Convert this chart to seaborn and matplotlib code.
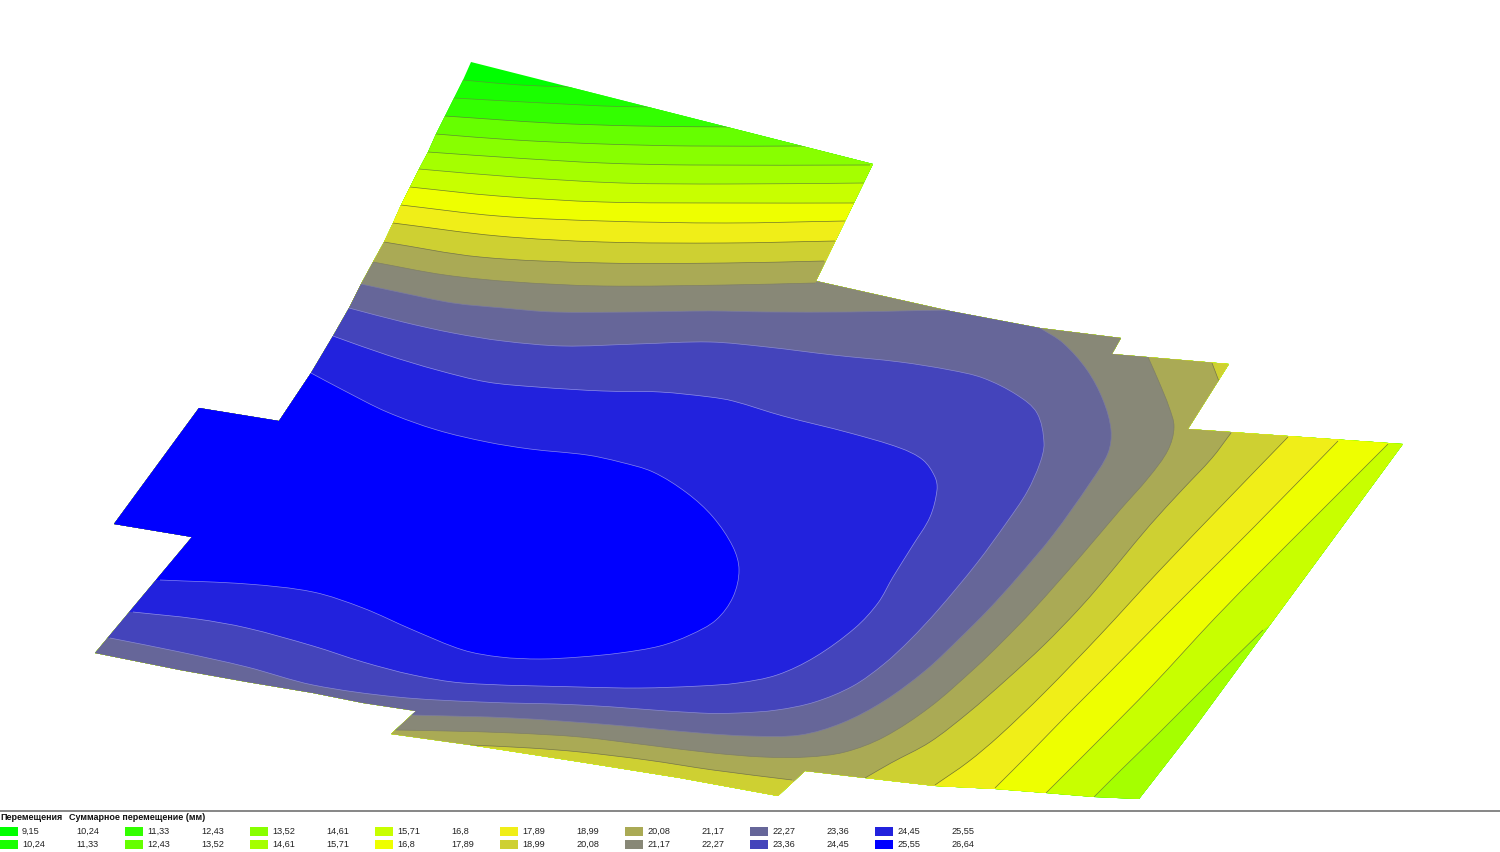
import matplotlib
matplotlib.use("Agg")
import matplotlib.pyplot as plt
import numpy as np
import seaborn as sns
from matplotlib.path import Path
from matplotlib.patches import PathPatch, Polygon, Rectangle

# legend values, row by row
row1_from = ["9,15", "11,33", "13,52", "15,71", "17,89", "20,08", "22,27", "24,45"]
row1_to = ["10,24", "12,43", "14,61", "16,8", "18,99", "21,17", "23,36", "25,55"]
row2_from = ["10,24", "12,43", "14,61", "16,8", "18,99", "21,17", "23,36", "25,55"]
row2_to = ["11,33", "13,52", "15,71", "17,89", "20,08", "22,27", "24,45", "26,64"]
row1_colors = ["#00ff00", "#33ff00", "#88ff00", "#c8ff00", "#f0ee18", "#aaaa55", "#666699", "#2222dd"]
row2_colors = ["#1aff00", "#66ff00", "#a5ff00", "#eeff00", "#ced032", "#888877", "#4444bb", "#0000ff"]

# plate outline (pixel coords)
outline = [(471, 62), (873, 164), (816, 281), (950, 311), (1040, 328), (1121, 338), (1112, 354),
           (1229, 364), (1188, 429), (1403, 444), (1195, 727), (1139, 799), (1094, 797), (1046, 793),
           (995, 789), (935, 786), (865, 778), (805, 771), (778, 796), (680, 778), (580, 762),
           (470, 745), (391, 734), (416, 711), (363, 703), (313, 693), (247, 682), (180, 670),
           (95, 653), (192, 537), (114, 524), (199, 408), (279, 421), (311, 373), (333, 336),
           (349, 308), (361, 284), (373, 262), (384, 242), (393, 223), (401, 205), (410, 187),
           (419, 169), (428, 152), (436, 134), (445, 116), (454, 98), (463, 80)]

# isolines: *_line are the visible pieces, *_gap run outside the plate to close the region
line_1024 = [[(463, 80), (520, 85), (572, 87)]]
gap_1024 = [[(580, 80), (1450, 80), (1450, 830), (0, 830), (0, 78)]]
line_1133 = [[(454, 98), (603, 106), (657, 107)]]
gap_1133 = [[(665, 100), (1450, 100), (1450, 830), (0, 830), (0, 96)]]
line_1243 = [[(445, 116), (550, 123), (638, 126), (735, 127)]]
gap_1243 = [[(745, 120), (1450, 120), (1450, 830), (0, 830), (0, 114)]]
line_1352 = [[(436, 134), (515, 140), (603, 144), (691, 146), (807, 146)]]
gap_1352 = [[(815, 140), (1450, 140), (1450, 830), (0, 830), (0, 130)]]
line_1461 = [[(428, 152), (515, 158), (603, 163), (691, 165), (870, 165)]]
gap_1461 = [[(880, 160), (1450, 160), (1450, 830), (0, 830), (0, 150)]]
line_1571 = [[(419, 169), (515, 177), (621, 183), (726, 184), (865, 183)],
             [(1263, 630), (1217, 675), (1159, 733), (1121, 770), (1094, 797)]]
gap_1571 = [[(875, 183), (1430, 420), (1420, 520), (1290, 610)],
            [(1090, 825), (0, 825), (0, 165)]]
line_168 = [[(410, 187), (498, 196), (603, 202), (726, 203), (854, 203)],
            [(1388, 444), (1315, 517), (1265, 567), (1215, 618), (1152, 686), (1100, 739), (1046, 793)]]
gap_168 = [[(862, 203), (1350, 340), (1395, 435)],
           [(1040, 820), (0, 820), (0, 180)]]
line_1789 = [[(401, 205), (498, 216), (603, 221), (726, 223), (845, 221)],
             [(1338, 441), (1255, 526), (1206, 575), (1166, 615), (1107, 675), (1067, 715),
              (1029, 754), (995, 788)]]
gap_1789 = [[(853, 221), (1300, 330), (1345, 430)],
            [(985, 815), (0, 815), (0, 197)]]
line_1899 = [[(393, 223), (498, 236), (603, 242), (726, 243), (835, 241)],
             [(1288, 437), (1227, 500), (1160, 570), (1100, 635), (1044, 693), (999, 736),
              (968, 762), (935, 785)]]
gap_1899 = [[(843, 241), (1250, 340), (1295, 425)],
            [(930, 810), (0, 810), (0, 215)]]
line_2008 = [[(384, 242), (480, 257), (603, 263), (726, 263), (824, 261)],
             [(1212, 363), (1220, 384)],
             [(1231, 433), (1212, 458), (1182, 490), (1150, 525), (1120, 561), (1100, 585), (1078, 610),
              (1044, 645), (1006, 680), (968, 713), (930, 742), (891, 763), (865, 778)],
             [(792, 780), (713, 770), (647, 760), (580, 752), (530, 748), (470, 745)]]
gap_2008 = [[(832, 261), (1125, 320), (1205, 350)],
            [(1240, 395), (1240, 425)],
            [(860, 795), (800, 790)],
            [(455, 760), (0, 760), (0, 235)]]
line_2117 = [[(373, 262), (445, 275), (515, 282), (603, 286), (726, 285), (815, 283)],
             [(1148, 357), (1159, 382), (1169, 407), (1174, 427), (1168, 450), (1149, 477), (1120, 510),
              (1080, 557), (1033, 610), (1002, 642), (975, 668), (930, 707), (884, 737), (845, 752),
              (807, 757), (763, 757), (713, 753), (647, 745), (580, 737), (513, 733), (447, 731), (395, 730)]]
gap_2117 = [[(826, 270), (1130, 325), (1148, 345)],
            [(385, 730), (20, 700), (20, 300), (365, 250)]]
line_2227 = [[(361, 284), (403, 293), (453, 303), (503, 308), (553, 312), (637, 312), (710, 311),
              (767, 312), (850, 312), (900, 311), (950, 310)],
             [(1040, 328), (1063, 343), (1087, 370), (1103, 400), (1111, 430), (1108, 453), (1090, 483),
              (1053, 535), (1017, 578), (988, 610), (960, 638), (926, 670), (884, 701), (842, 723),
              (800, 735), (750, 736), (700, 733), (613, 725), (513, 718), (412, 715)]]
gap_2227 = [[(990, 305), (1035, 315)],
            [(405, 715), (60, 680), (30, 330), (350, 270)]]
line_2336 = [[(349, 308), (403, 322), (453, 333), (503, 341), (563, 346), (637, 344), (710, 342),
              (767, 347), (833, 355), (900, 362), (950, 370), (983, 378), (1017, 395), (1037, 413),
              (1044, 443), (1040, 463), (1027, 492), (1007, 522), (977, 563), (938, 610), (910, 640),
              (884, 664), (853, 686), (815, 702), (777, 710), (738, 713), (700, 713), (580, 705),
              (480, 702), (397, 697), (313, 685), (247, 667), (180, 652), (110, 638)]]
gap_2336 = [[(50, 640), (50, 350), (335, 300)]]
line_2445 = [[(333, 336), (387, 355), (437, 370), (487, 382), (537, 387), (603, 391), (660, 392),
              (710, 397), (733, 401), (783, 416), (850, 433), (900, 448), (923, 460), (935, 477),
              (937, 490), (930, 517), (913, 545), (893, 577), (878, 603), (855, 628), (815, 657),
              (777, 675), (738, 683), (700, 686), (640, 688), (580, 687), (463, 683), (413, 675),
              (363, 662), (313, 646), (247, 628), (197, 619), (133, 612)]]
gap_2445 = [[(70, 612), (70, 370), (320, 330)]]
line_2555 = [[(311, 373), (343, 390), (387, 412), (437, 430), (487, 442), (530, 449), (587, 455),
              (620, 462), (653, 472), (687, 493), (713, 517), (733, 547), (739, 570), (733, 597),
              (716, 620), (690, 635), (660, 646), (620, 653), (580, 657), (540, 659), (500, 657),
              (463, 650), (413, 630), (363, 608), (313, 592), (247, 584), (160, 580)]]
gap_2555 = [[(100, 580), (90, 400), (270, 360)]]

fills = sns.color_palette(["#1aff00", "#33ff00", "#66ff00", "#88ff00", "#a5ff00", "#c8ff00", "#eeff00", "#f0ee18",
                           "#ced032", "#aaaa55", "#888877", "#666699", "#4444bb", "#2222dd", "#0000ff"])
edges = ["#55a030", "#55a030", "#559030", "#5c9030", "#5c9030", "#6a9030", "#70802c", "#70762c",
         "#70722c", "#75754a", "#7f7f66", "#7c7ca0", "#8a8ad0", "#8f8fe8", "#8585f0"]
all_lines = [line_1024, line_1133, line_1243, line_1352, line_1461, line_1571, line_168, line_1789,
             line_1899, line_2008, line_2117, line_2227, line_2336, line_2445, line_2555]
all_gaps = [gap_1024, gap_1133, gap_1243, gap_1352, gap_1461, gap_1571, gap_168, gap_1789,
            gap_1899, gap_2008, gap_2117, gap_2227, gap_2336, gap_2445, gap_2555]


def curve_through(seg):
    # bezier pieces passing through the read points, so the isolines are not angular
    pts = np.array(seg, dtype=float)
    verts, codes = [], []
    for i in range(len(pts) - 1):
        a, b = pts[i], pts[i + 1]
        chord = np.linalg.norm(b - a)
        ta = pts[min(i + 1, len(pts) - 1)] - pts[max(i - 1, 0)]
        tb = pts[min(i + 2, len(pts) - 1)] - pts[i]
        c1 = a + ta / np.linalg.norm(ta) * chord / 3
        c2 = b - tb / np.linalg.norm(tb) * chord / 3
        verts += [c1, c2, b]
        codes += [Path.CURVE4] * 3
    return verts, codes


sns.set_theme(style="white")
plt.rcParams["font.family"] = ["Liberation Sans", "DejaVu Sans"]

fig = plt.figure(figsize=(15, 8.52), dpi=100)
ax = fig.add_axes([0, 0, 1, 1])

plate = Polygon(outline, closed=True, fc="#00ff00", ec="none")
ax.add_patch(plate)

for color, lines, gaps in zip(fills, all_lines, all_gaps):
    verts, codes = [lines[0][0]], [Path.MOVETO]
    for seg, gap in zip(lines, gaps):
        if verts[-1] is not seg[0]:
            verts.append(seg[0])
            codes.append(Path.LINETO)
        v, c = curve_through(seg)
        verts += v
        codes += c
        verts += gap
        codes += [Path.LINETO] * len(gap)
    verts.append(lines[0][0])
    codes.append(Path.CLOSEPOLY)
    region = PathPatch(Path(np.array(verts, dtype=float), codes), fc=color, ec="none", lw=0)
    ax.add_patch(region)
    region.set_clip_path(plate)

for edge, lines in zip(edges, all_lines):
    for seg in lines:
        v, c = curve_through(seg)
        stroke = PathPatch(Path(np.array([seg[0]] + v, dtype=float), [Path.MOVETO] + c),
                           fc="none", ec=edge, lw=0.5)
        ax.add_patch(stroke)
        stroke.set_clip_path(plate)

# legend strip
sns.lineplot(x=[0, 1500], y=[811, 811], color="#666666", lw=1.1, ax=ax)
ax.text(0, 818, "Перемещения", fontsize=6.5, fontweight="bold", va="center", color="#111111")
ax.text(69, 818, "Суммарное перемещение (мм)", fontsize=6.5, fontweight="bold", va="center", color="#111111")
for i in range(8):
    x0 = 125 * i
    ax.add_patch(Rectangle((x0, 827), 18, 9, fc=row1_colors[i], ec="none"))
    ax.add_patch(Rectangle((x0, 840), 18, 9, fc=row2_colors[i], ec="none"))
    ax.text(x0 + 22, 831.5, row1_from[i], fontsize=6.6, va="center", color="#222222")
    ax.text(x0 + 76, 831.5, row1_to[i], fontsize=6.6, va="center", color="#222222")
    ax.text(x0 + 22, 844.5, row2_from[i], fontsize=6.6, va="center", color="#222222")
    ax.text(x0 + 76, 844.5, row2_to[i], fontsize=6.6, va="center", color="#222222")

ax.set_xlim(0, 1500)
ax.set_ylim(852, 0)
ax.set_axis_off()

fig.savefig("out.png", dpi=100)
